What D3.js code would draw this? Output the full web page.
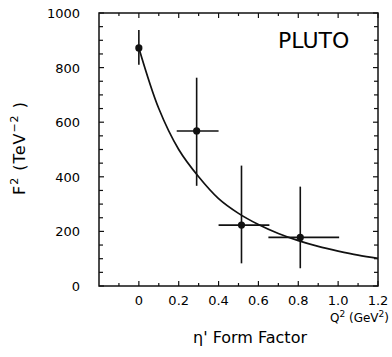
<!DOCTYPE html>
<html>
<head>
<meta charset="utf-8">
<script src="https://cdn.jsdelivr.net/npm/d3@7"></script>
<style>
  body { margin: 0; background: #fff; }
  text { font-family: "DejaVu Sans", sans-serif; fill: #000; }
</style>
</head>
<body>
<div id="graph"></div>
<script>
// data
let q2 = [0.0, 0.29, 0.515, 0.81];
let f2 = [872, 568, 223, 178];
let q2Lo = [0.0, 0.19, 0.40, 0.65];
let q2Hi = [0.0, 0.40, 0.655, 1.005];
let f2Lo = [810, 367, 83, 65];
let f2Hi = [938, 763, 441, 364];

// fitted curve
let fitQ2 = [0, 0.1, 0.2, 0.3, 0.4, 0.5, 0.6, 0.7, 0.8, 0.9, 1.0, 1.1, 1.2];
let fitF2 = [872, 650, 500, 400, 320, 266, 225, 192, 166, 145, 128, 113, 101];

let xTicks = [0, 0.2, 0.4, 0.6, 0.8, 1.0, 1.2];
let yTicks = [0, 200, 400, 600, 800, 1000];

let width = 392, height = 357;
let margin = {left: 99, top: 13, right: 14, bottom: 71};
let plot_width = width - margin.left - margin.right;
let plot_height = height - margin.top - margin.bottom;

let svg = d3.select("#graph")
    .append("svg")
    .attr("width", width)
    .attr("height", height);

let g = svg.append("g")
    .attr("transform", `translate(${margin.left},${margin.top})`);

let x = d3.scaleLinear().domain([-0.2, 1.2]).range([0, plot_width]);
let y = d3.scaleLinear().domain([0, 1000]).range([plot_height, 0]);

// frame
g.append("rect")
    .attr("width", plot_width)
    .attr("height", plot_height)
    .attr("fill", "none")
    .attr("stroke", "#111")
    .attr("stroke-width", 1.5);

// ticks on all four sides, pointing inward
let minorX = d3.range(-1, 13).map(d => d / 10);
let minorY = d3.range(0, 21).map(d => d * 50);
let isMajorX = d => Math.abs(Math.round(d * 10) % 2) == 0;
let isMajorY = d => d % 200 == 0;

g.append("g").selectAll("line").data(minorX).enter().append("line")
    .attr("x1", d => x(d)).attr("x2", d => x(d))
    .attr("y1", plot_height).attr("y2", d => plot_height - (isMajorX(d) ? 5 : 3))
    .attr("stroke", "#111").attr("stroke-width", 1.2);
g.append("g").selectAll("line").data(minorX).enter().append("line")
    .attr("x1", d => x(d)).attr("x2", d => x(d))
    .attr("y1", 0).attr("y2", d => isMajorX(d) ? 5 : 3)
    .attr("stroke", "#111").attr("stroke-width", 1.2);
g.append("g").selectAll("line").data(minorY).enter().append("line")
    .attr("y1", d => y(d)).attr("y2", d => y(d))
    .attr("x1", 0).attr("x2", d => isMajorY(d) ? 5 : 4)
    .attr("stroke", "#111").attr("stroke-width", 1.2);
g.append("g").selectAll("line").data(minorY).enter().append("line")
    .attr("y1", d => y(d)).attr("y2", d => y(d))
    .attr("x1", plot_width).attr("x2", d => plot_width - (isMajorY(d) ? 5 : 4))
    .attr("stroke", "#111").attr("stroke-width", 1.2);

// tick labels
g.append("g").selectAll("text").data(yTicks).enter().append("text")
    .attr("x", -19)
    .attr("y", d => y(d) + 5)
    .style("text-anchor", "end")
    .style("font-size", 13)
    .text(d => d);
g.append("g").selectAll("text").data(xTicks).enter().append("text")
    .attr("x", d => x(d))
    .attr("y", plot_height + 19)
    .style("text-anchor", "middle")
    .style("font-size", 13)
    .text(d => d == 0 ? "0" : d3.format(".1f")(d));

// fit curve
let line = d3.line()
    .x((d, i) => x(fitQ2[i]))
    .y(d => y(d))
    .curve(d3.curveCatmullRom);
g.append("path")
    .attr("d", line(fitF2))
    .attr("fill", "none")
    .attr("stroke", "#111")
    .attr("stroke-width", 1.7);

// error bars
let idx = d3.range(q2.length);
g.append("g").selectAll("line").data(idx).enter().append("line")
    .attr("x1", i => x(q2[i])).attr("x2", i => x(q2[i]))
    .attr("y1", i => y(f2Lo[i])).attr("y2", i => y(f2Hi[i]))
    .attr("stroke", "#111").attr("stroke-width", 1.6);
g.append("g").selectAll("line").data(idx.filter(i => q2Hi[i] > q2Lo[i])).enter().append("line")
    .attr("x1", i => x(q2Lo[i])).attr("x2", i => x(q2Hi[i]))
    .attr("y1", i => y(f2[i])).attr("y2", i => y(f2[i]))
    .attr("stroke", "#111").attr("stroke-width", 1.6);
g.append("g").selectAll("circle").data(idx).enter().append("circle")
    .attr("cx", i => x(q2[i]))
    .attr("cy", i => y(f2[i]))
    .attr("r", 3.6)
    .attr("fill", "#111");

// labels
g.append("text")
    .attr("x", 179)
    .attr("y", 35)
    .style("font-size", 22)
    .text("PLUTO");

svg.append("text")
    .attr("transform", `translate(25,148) rotate(-90)`)
    .style("text-anchor", "middle")
    .style("font-size", 16)
    .style("letter-spacing", "1px")
    .html("F<tspan dy='-7' font-size='11'>2</tspan><tspan dy='7'>  (TeV</tspan><tspan dy='-7' font-size='11'>−2</tspan><tspan dy='7'> )</tspan>");

svg.append("text")
    .attr("x", 389)
    .attr("y", 322)
    .style("text-anchor", "end")
    .style("font-size", 12)
    .html("Q<tspan dy='-5' font-size='9'>2</tspan><tspan dy='5'> (GeV</tspan><tspan dy='-5' font-size='9'>2</tspan><tspan dy='5'>)</tspan>");

svg.append("text")
    .attr("x", 250)
    .attr("y", 343)
    .style("text-anchor", "middle")
    .style("font-size", 16)
    .text("η' Form Factor");
</script>
</body>
</html>
